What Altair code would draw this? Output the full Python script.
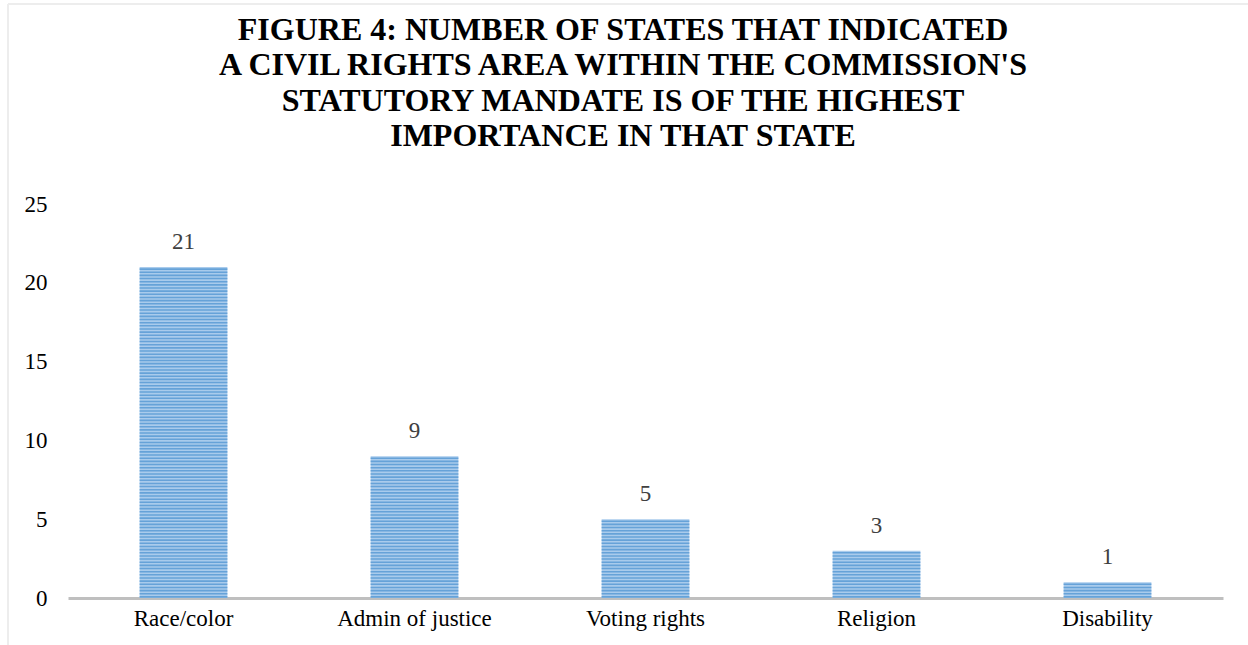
import altair as alt
import pandas as pd

categories = ["Race/color", "Admin of justice", "Voting rights", "Religion", "Disability"]
values = [21, 9, 5, 3, 1]
title_lines = [
    "FIGURE 4:  NUMBER OF STATES THAT INDICATED",
    "A CIVIL RIGHTS AREA WITHIN THE COMMISSION'S",
    "STATUTORY MANDATE IS OF THE HIGHEST",
    "IMPORTANCE IN THAT STATE",
]
y_ticks = [0, 5, 10, 15, 20, 25]

df = pd.DataFrame({"category": categories, "value": values})
title_df = pd.DataFrame({"t": ["\n".join(title_lines)]})

FONT = "Liberation Serif"

x_enc = alt.X(
    "category:N",
    sort=categories,
    scale=alt.Scale(paddingInner=0.62, paddingOuter=0.31),
    axis=alt.Axis(
        title=None, labelAngle=0, ticks=False, labelPadding=9,
        labelFontSize=23, labelFont=FONT, labelColor="#000000",
        domainColor="#BFBFBF", domainWidth=3,
    ),
)
y_scale = alt.Scale(domain=[0, 25], nice=False)
y_axis = alt.Axis(
    title=None, values=y_ticks, grid=False, domain=False, ticks=False,
    labelPadding=21, labelFontSize=23, labelFont=FONT, labelColor="#000000",
)

base = alt.Chart(df)

bars = base.mark_bar(color="#A9CBEC").encode(
    x=x_enc,
    y=alt.Y("value:Q", scale=y_scale, axis=y_axis),
)

stripes = (
    base.transform_calculate(s="sequence(0, datum.value, 0.2)")
    .transform_flatten(["s"])
    .transform_calculate(s1="datum.s + 0.02", s2="datum.s + 0.12")
    .mark_bar(color="#5B9BD5", opacity=0.85)
    .encode(
        x=alt.X("category:N", sort=categories),
        y=alt.Y("s1:Q", scale=y_scale),
        y2="s2:Q",
    )
)

labels = base.mark_text(
    dy=-13, baseline="bottom", fontSize=23, font=FONT, color="#404040"
).encode(
    x=alt.X("category:N", sort=categories),
    y=alt.Y("value:Q", scale=y_scale),
    text="value:Q",
)

title = alt.Chart(title_df).mark_text(
    font=FONT, fontSize=32, fontWeight="bold", color="#000000",
    align="center", baseline="alphabetic", lineBreak="\n", lineHeight=35.3,
).encode(
    x=alt.value(555), y=alt.value(-164), text="t:N"
)

border = base.mark_rule(color="#EDEDED", strokeWidth=2).encode(
    x=alt.value(-60), x2=alt.value(1180), y=alt.value(-200)
)
border_left = base.mark_rule(color="#EDEDED", strokeWidth=2).encode(
    x=alt.value(-60), y=alt.value(-200), y2=alt.value(441)
)

chart = (
    alt.layer(border, border_left, bars, stripes, labels, title)
    .properties(
        width=1155,
        height=394,
        autosize=alt.AutoSizeParams(type="none"),
        padding={"left": 68, "top": 204, "right": 25, "bottom": 47},
        view=alt.ViewBackground(strokeWidth=0, strokeOpacity=0),
    )
    .configure_view(strokeWidth=0, strokeOpacity=0)
    .configure(background="#FFFFFF")
)

chart.save("out.html", embed_options={"renderer": "svg", "actions": False})
